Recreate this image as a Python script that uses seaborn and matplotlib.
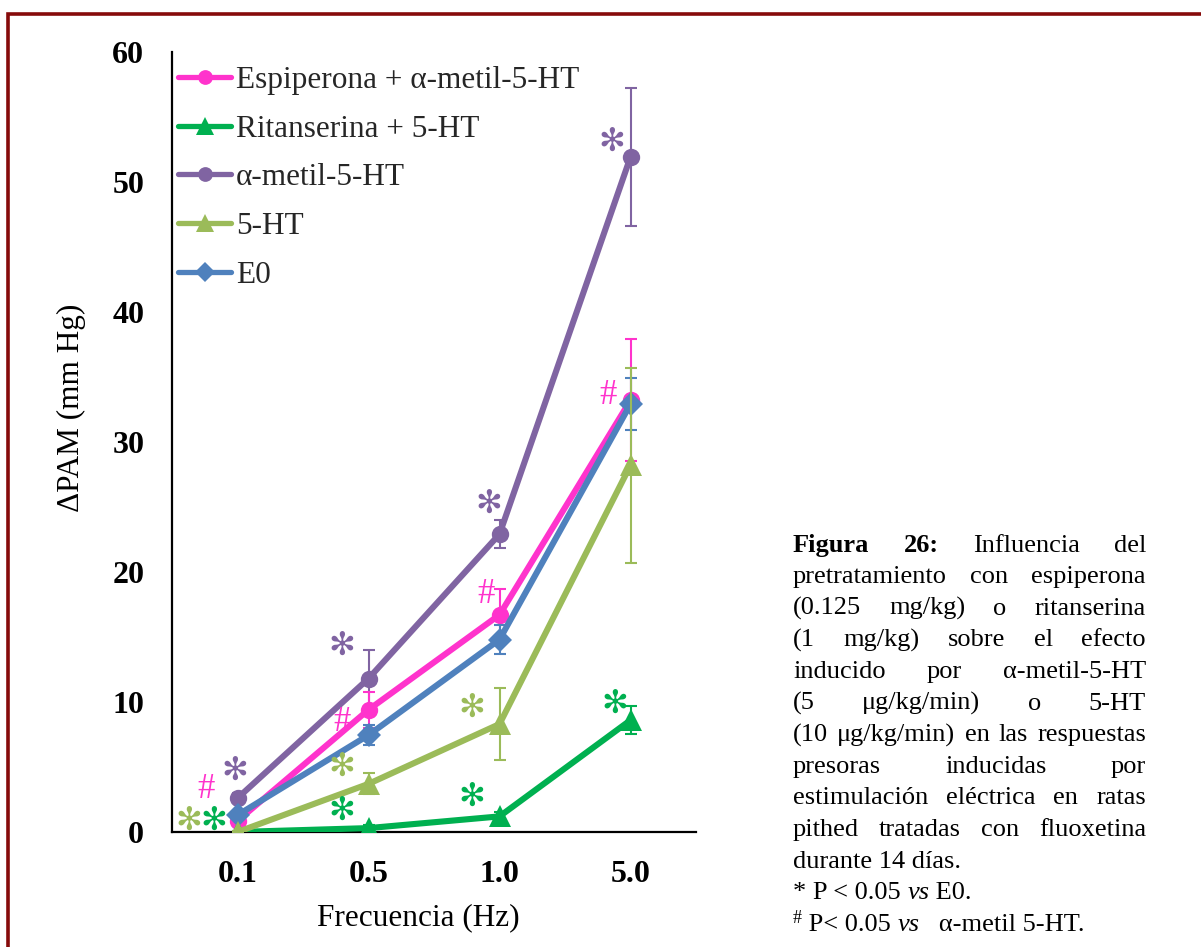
import matplotlib
matplotlib.use("Agg")
import matplotlib.pyplot as plt
import seaborn as sns
import numpy as np
import pandas as pd
from matplotlib.patches import Rectangle
from matplotlib.lines import Line2D

# ---------------- data ----------------
freq_labels = ["0.1", "0.5", "1.0", "5.0"]
series_names = ["Espiperona + α-metil-5-HT", "Ritanserina + 5-HT",
                "α-metil-5-HT", "5-HT", "E0"]
espiperona = [0.85, 9.4, 16.7, 33.2]
espiperona_err = [0.3, 1.4, 2.0, 4.7]
ritanserina = [0.0, 0.3, 1.2, 8.6]
ritanserina_err = [0.1, 0.2, 0.3, 1.1]
ametil = [2.6, 11.8, 22.9, 51.9]
ametil_err = [0.4, 2.2, 1.1, 5.3]
ht5 = [0.0, 3.7, 8.3, 28.2]
ht5_err = [0.1, 0.8, 2.8, 7.5]
e0 = [1.3, 7.45, 14.8, 32.9]
e0_err = [0.3, 0.75, 1.1, 2.0]

values = [espiperona, ritanserina, ametil, ht5, e0]
errors = [espiperona_err, ritanserina_err, ametil_err, ht5_err, e0_err]
colors = ["#FF33CC", "#00B050", "#8064A2", "#9BBB59", "#4F81BD"]
markers = ["o", "^", "o", "^", "D"]
msizes = [12.5, 16, 12.5, 16, 12.5]
zorders = [3, 4, 2, 6, 5]

# significance marks: (text, x, y, color)
mark_x = [-0.37, -0.18, -0.24, -0.02, 0.8, 0.8, 0.8, 0.8, 1.79, 1.79, 1.9, 1.92, 2.86, 2.83, 2.88]
mark_y = [0.85, 0.85, 3.3, 4.7, 14.3, 8.4, 5.0, 1.6, 9.5, 2.7, 18.3, 25.2, 53.0, 33.6, 9.8]
mark_txt = ["✻", "✻", "#", "✻", "✻", "#", "✻", "✻", "✻", "✻", "#", "✻", "✻", "#", "✻"]
mark_col = ["#9BBB59", "#00B050", "#FF33CC", "#8064A2", "#8064A2", "#FF33CC", "#9BBB59",
            "#00B050", "#9BBB59", "#00B050", "#FF33CC", "#8064A2", "#8064A2", "#FF33CC", "#00B050"]

# ---------------- style ----------------
sns.set_style("white")
plt.rcParams['font.family'] = ['Liberation Serif', 'DejaVu Sans']

W, H = 1201, 947
fig = plt.figure(figsize=(W / 100, H / 100), dpi=100)
ax = fig.add_axes([172 / W, 1 - 832 / H, (696 - 172) / W, (832 - 51.7) / H])

xpos = np.arange(len(freq_labels))
for name, v, e, c, m, ms, z in zip(series_names, values, errors, colors, markers, msizes, zorders):
    df = pd.DataFrame({"x": xpos, "y": v})
    sns.lineplot(data=df, x="x", y="y", ax=ax, color=c, linewidth=4.4,
                 marker=m, markersize=ms, markeredgewidth=0, zorder=z,
                 legend=False)
    ax.errorbar(xpos, v, yerr=e, fmt="none", ecolor=c, elinewidth=1.5,
                capsize=4.5, capthick=1.5, zorder=z - 0.5)

for t, x, y, c in zip(mark_txt, mark_x, mark_y, mark_col):
    if t == "#":
        ax.text(x, y, t, color=c, fontsize=25, ha="center", va="center",
                family=["Liberation Serif"], zorder=8)
    else:
        ax.text(x, y, t, color=c, fontsize=23, ha="center", va="center",
                family=["DejaVu Sans"], zorder=8)

ax.set_xlim(-0.5, 3.5)
ax.set_ylim(0, 60)
ax.set_yticks(np.arange(0, 61, 10))
ax.set_xticks(xpos)
ax.set_xticklabels(freq_labels)
ax.set_xticks(np.arange(-0.5, 3.6, 1.0), minor=True)
ax.tick_params(axis="x", which="major", length=0, pad=20, labelsize=23)
ax.tick_params(axis="x", which="minor", length=7, width=1.5, direction="out", color="black")
ax.tick_params(axis="y", which="major", length=6, width=1.5, direction="out", pad=14,
               labelsize=23, color="black")
for lab in ax.get_xticklabels() + ax.get_yticklabels():
    lab.set_fontweight("bold")
    lab.set_color("black")
for s in ["top", "right"]:
    ax.spines[s].set_visible(False)
for s in ["left", "bottom"]:
    ax.spines[s].set_color("black")
    ax.spines[s].set_linewidth(1.6)
ax.set_xlabel("Frecuencia (Hz)", fontsize=22.5, color="black")
ax.xaxis.set_label_coords(0.471, -0.091)
ax.set_ylabel("ΔPAM (mm Hg)", fontsize=22.5, color="black")
ax.yaxis.set_label_coords(-0.165, 0.543)
ax.grid(False)

# legend
handles = [Line2D([], [], color=c, linewidth=3.8, marker=m, markersize=ms * 0.85,
                  markeredgewidth=0) for c, m, ms in zip(colors, markers, msizes)]
leg = ax.legend(handles, series_names, loc="upper left",
                bbox_to_anchor=(178 / W, 1 - 66 / H), bbox_transform=fig.transFigure,
                frameon=False, fontsize=22.5, handlelength=1.7, handletextpad=0.15,
                labelspacing=0.63, borderpad=0, borderaxespad=0)

# frame around figure
fig.patches.append(Rectangle((8 / W, -0.2), 2.0, 1.2 - 14 / H, transform=fig.transFigure,
                             fill=False, edgecolor="#860A0A", linewidth=2.6, clip_on=False))

# ---------------- caption (justified) ----------------
fig.canvas.draw()
rend = fig.canvas.get_renderer()
cap_fs = 19
x_left, x_right = 793, 1146
line_h = 31.6
y0 = 551.5


def mk(s, x, y, **kw):
    p = dict(fontsize=cap_fs, color="black", ha="left", va="baseline",
             family=["Liberation Serif", "DejaVu Sans"])
    p.update(kw)
    return fig.text(x / W, 1 - y / H, s, **p)


def width(t):
    return t.get_window_extent(renderer=rend).width


regular = {}
bold = {"fontweight": "bold"}
ital = {"style": "italic"}

justified = [
    [("Figura", bold), ("26:", bold), ("Influencia", regular), ("del", regular)],
    [("pretratamiento", regular), ("con", regular), ("espiperona", regular)],
    [("(0.125", regular), ("mg/kg)", regular), ("o", regular), ("ritanserina", regular)],
    [("(1", regular), ("mg/kg)", regular), ("sobre", regular), ("el", regular), ("efecto", regular)],
    [("inducido", regular), ("por", regular), ("α-metil-5-HT", regular)],
    [("(5", regular), ("μg/kg/min)", regular), ("o", regular), ("5-HT", regular)],
    [("(10", regular), ("μg/kg/min)", regular), ("en", regular), ("las", regular), ("respuestas", regular)],
    [("presoras", regular), ("inducidas", regular), ("por", regular)],
    [("estimulación", regular), ("eléctrica", regular), ("en", regular), ("ratas", regular)],
    [("pithed", regular), ("tratadas", regular), ("con", regular), ("fluoxetina", regular)],
]

for i, words in enumerate(justified):
    y = y0 + i * line_h
    txts = [mk(w, 0, y, **p) for w, p in words]
    ws = [width(t) for t in txts]
    gap = (x_right - x_left - sum(ws)) / (len(ws) - 1)
    x = x_left
    for t, w_ in zip(txts, ws):
        t.set_x(x / W)
        x += w_ + gap

# left-aligned lines
flow_lines = [
    [("durante 14 días.", regular, 0)],
    [("* P < 0.05 ", regular, 0), ("vs", ital, 0), (" E0.", regular, 0)],
    [("#", {"fontsize": 13}, -8), (" P< 0.05 ", regular, 0), ("vs", ital, 0), ("   α-metil 5-HT.", regular, 0)],
]
for j, segs in enumerate(flow_lines):
    y = y0 + (len(justified) + j) * line_h
    x = x_left
    for s, p, dy in segs:
        t = mk(s, x, y + dy, **p)
        x += width(t)

fig.savefig("out.png", dpi=100)
